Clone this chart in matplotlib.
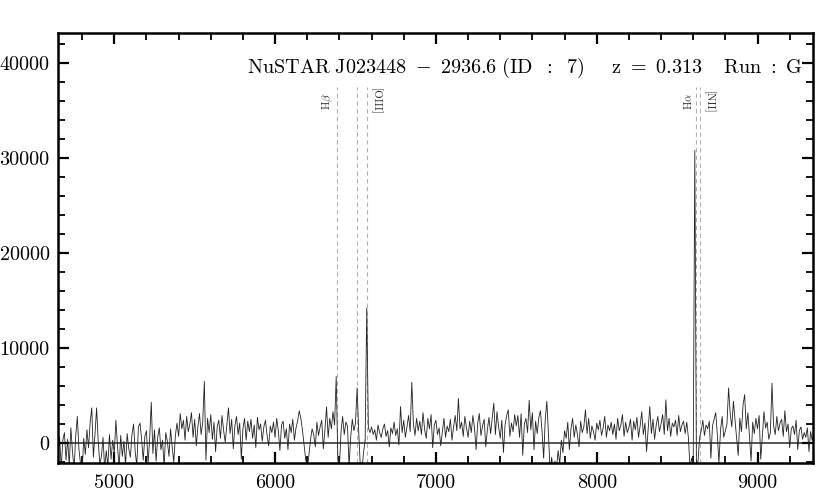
import numpy as np
import matplotlib
matplotlib.use("Agg")
import matplotlib.pyplot as plt
from matplotlib.ticker import MultipleLocator

plt.rcParams['font.family'] = 'serif'
plt.rcParams['font.serif'] = ['cmr10', 'DejaVu Serif']
plt.rcParams['mathtext.fontset'] = 'cm'
plt.rcParams['axes.unicode_minus'] = False

# ---- data ----
wl_start = 4650.0
wl_step = 10.0
flux = [
    -1500, 600, -2600, 300, 1100, -1800, 400, -2400, 1600, -900, -2800, 700, 2800, -600, -2200,
    -3000, 500, -1200, 1400, -500, 2200, 3700, -1500, 900, 3700, 200, -2200, -1400, 600, -2700,
    -800, -2400, 900, -1700, 300, -1100, 2400, -300, -2600, 800, -1400, 200, -2300, 1000, -600,
    -1500, 900, 2000, -900, -2400, 1700, 2100, 400, -1800, 700, 1300, -2200, 500, 4300, -1100,
    1400, -1900, 600, 1600, -700, 300, -2500, 1100, 200, -1400, 1500, -400, -2000, 800, 2100,
    700, 3100, 1500, 2400, 300, 2800, 1200, 2000, 3200, 600, 2500, -300, 1700, 3100, 900,
    2200, 6500, -1800, 2600, 1100, 3000, 400, 2200, -900, 1700, 2400, 500, 2900, 1300, 100,
    1900, 3700, 1000, 2500, -600, 1800, 2800, 900, 2100, -1700, 1500, 2600, 300, 2300, 1200,
    2500, 500, 1900, -500, 2700, 1400, 2000, 200, 1700, 2400, 800, -300, 1800, 1100, 2200,
    600, 2600, 1300, -800, 1900, 2300, 500, 1500, -700, 2000, 1100, 2500, 300, 1600, 2300,
    3400, 2600, 1400, -200, -1700, -2700, -1300, 300, 1500, 900, -400, 2200, 800, 1700, 2400,
    -600, 1400, 3800, 600, 2600, 1500, 3300, 1900, 7000, -1600, -2500, 1200, 2800, 900, 2200,
    1800, -2400, 600, 2500, 1300, 2100, 5800, 1200, -2500, -2900, -1000, 300, 14200, 1600, 1100,
    1700, 900, 1400, 300, 1900, 1100, 600, 1500, 2000, 700, 1300, -400, 1600, 1000, 2200,
    800, 1500, -200, 3850, 1100, 2400, 600, 1700, 2900, 1200, 6400, 2000, 800, 2600, 1300,
    2300, 900, 3200, 1400, 500, 2600, 1500, 3000, -500, 1900, 2400, 900, 1600, -300, 1200,
    2600, 600, 1800, 1200, 2500, 300, 1700, 2900, 1300, 4700, 1500, 2200, 700, 2800, 1600,
    600, 2300, 1100, 2900, 1600, -700, 2100, 3100, 800, 1800, 2500, -400, 1400, 2700, 1000,
    2600, 4200, 900, 3300, 1700, 500, 2400, -1000, 1900, 2900, 3500, 700, 2100, 1200, 3000,
    1800, 2900, 600, 3100, -1300, 2000, 2600, 1100, 4500, 1400, 3200, -700, 2300, 1000, 2700,
    3400, 1200, -1600, 2500, 4400, 900, -2900, -1500, -3200, -1900, -2600, -800, -2200, 300, -1000,
    1300, 500, 2200, -700, 1500, 2600, 600, 1900, 900, -400, 2300, 1100, 1700, 3500, 1000,
    2600, 500, 1800, 1200, 300, 2100, 1400, 2400, 800, 1600, 2800, 600, 1900, 1300, 2200,
    900, 2000, 400, 2600, 1300, 1900, 3000, 700, 2200, 1100, 1600, 2500, 300, 2300, 1400,
    2700, 600, 1800, 3300, 900, 2100, -900, 1500, 3850, 1000, 2500, 400, 1900, 2800, 1200,
    2000, 3000, 900, 4550, 1300, 2600, 700, 2100, 1700, 2400, 800, 2900, 1200, 1900, 2300,
    1000, 2200, 600, -2600, -1600, -2400, 30800, -2200, -1900, 600, 1300, 2400, 800, 1900, 1500,
    2300, -1600, 1800, 2500, 3200, 900, -2100, 1400, 2800, 600, 1300, 2000, 5800, 3100, 1700,
    4400, 2400, 500, -1300, 2600, 1200, 4000, 5100, 1500, 3200, 700, -1900, 2200, 1000, 2600,
    1500, 2900, -1700, 700, 3300, 1600, 2200, 400, 1100, 6300, 1800, 900, 2800, 1300, 2100,
    2500, 700, 3400, 1200, 2000, -500, 1500, 1800, 900, 2400, -700, 1300, 1700, 400, 1100,
    600, 1600, -900, 1200, 300, 900,
]
wavelength = wl_start + wl_step * np.arange(len(flux))

line_names = [r'H$\beta$', '', '[OIII]', r'H$\alpha$', '[NII]']
line_rest = [4861.3, 4958.9, 5006.8, 6562.8, 6583.4]
redshift = 0.313
title = (r'$\mathrm{NuSTAR\ J023448\ -\ 2936.6\ (ID\;\ :\;\ 7)\quad\;\;'
         r' z\ =\ 0.313\quad\; Run\ :\ G}$')

# ---- plot ----
fig = plt.figure(figsize=(8.3, 4.98), dpi=100)
ax = fig.add_axes([58/830, (498-463)/498, (813-58)/830, (463-33)/498])

ax.axhline(0, color='#555555', lw=1.4, zorder=1)
ax.plot(wavelength, flux, color='#222222', lw=0.6, zorder=2)

ymin, ymax = -2100, 43150
for name, lr in zip(line_names, line_rest):
    lo = lr * (1 + redshift)
    ax.vlines(lo, ymin, 37500, colors='#b0b0b0', linestyles=(0, (4, 3)),
              lw=0.8, zorder=0)
    if name:
        if name.startswith('['):
            ax.text(lo + 15, 35900, name, rotation=270, ha='left', va='center',
                    fontsize=8, color='#333333')
        else:
            ax.text(lo - 12, 35900, name, rotation=90, ha='right', va='center',
                    fontsize=8, color='#333333')

ax.text(0.25, 0.918, title, transform=ax.transAxes, ha='left', va='center',
        fontsize=14.5)

ax.set_xlim(4650, 9345)
ax.set_ylim(ymin, ymax)
ax.xaxis.set_major_locator(MultipleLocator(1000))
ax.xaxis.set_minor_locator(MultipleLocator(200))
ax.yaxis.set_major_locator(MultipleLocator(10000))
ax.yaxis.set_minor_locator(MultipleLocator(2000))
ax.tick_params(which='both', direction='in', top=True, right=True,
               labelsize=14.5)
ax.tick_params(axis='x', which='major', pad=8)
ax.tick_params(axis='y', which='major', pad=6)
ax.tick_params(which='major', length=8, width=1.6)
ax.tick_params(which='minor', length=5, width=1.3)
for s in ax.spines.values():
    s.set_linewidth(1.8)

fig.savefig('out.png', dpi=100)
